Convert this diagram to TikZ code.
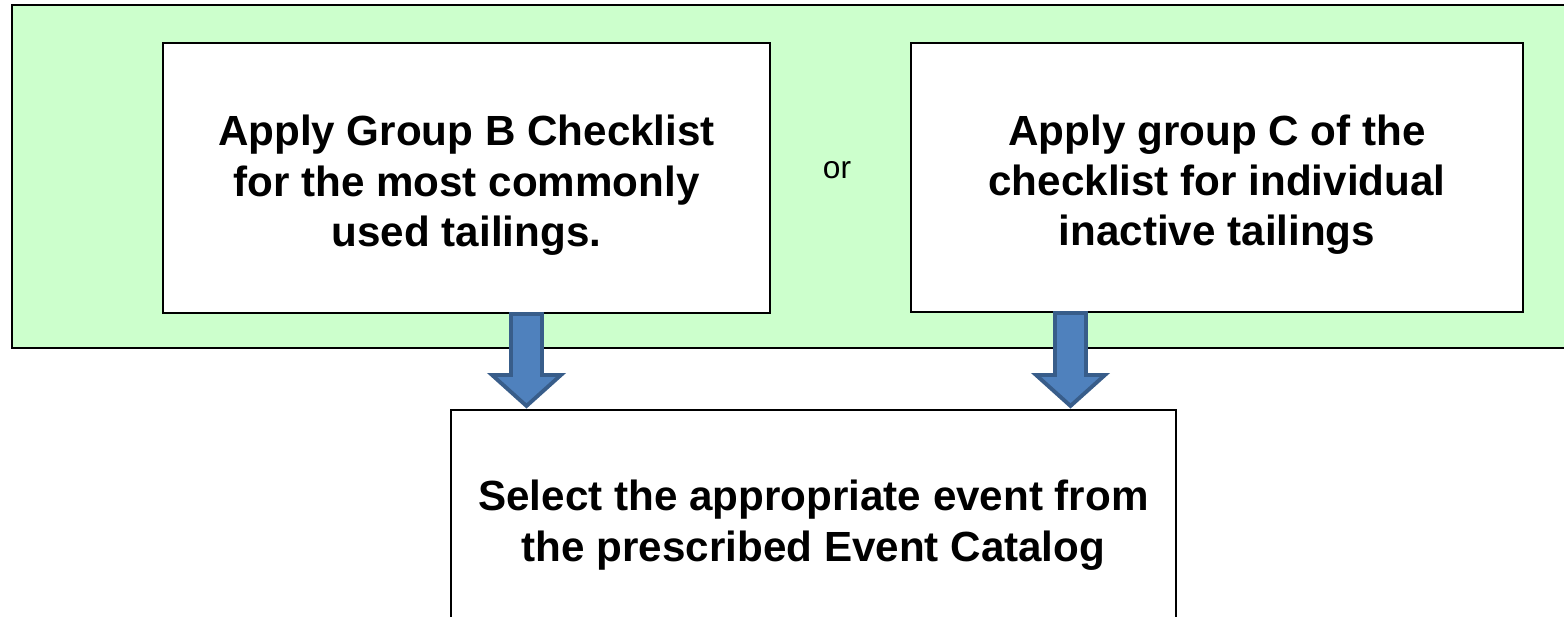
\documentclass[tikz,border=0pt]{standalone}
\usepackage{fontspec}
\setmainfont{Liberation Sans}
\usetikzlibrary{positioning, calc}

\definecolor{panelgreen}{HTML}{CCFFCC}
\definecolor{arrowfill}{HTML}{4F81BD}
\definecolor{arrowline}{HTML}{385D8A}

\tikzset{
  stepbox/.style={draw=black, line width=1.2pt, fill=white, align=center,
    font=\fontsize{24}{28.5}\selectfont\bfseries, inner sep=0pt},
  blockarrow/.style={draw=arrowline, fill=arrowfill, line width=2.2pt, line join=miter}
}
% push the text of a box a little down
\newcommand{\topgap}[1]{\rule{0pt}{#1}}

\begin{document}
\begin{tikzpicture}
  % Page frame
  \useasboundingbox (0,0) rectangle (31.28,12.32);
  \clip (0,0) rectangle (31.28,12.32);

  % Green panel
  \draw[line width=1.2pt, fill=panelgreen] (0.24,5.36) rectangle (31.8,12.22);

  % Checklist boxes
  \node[stepbox, minimum width=12.14cm, minimum height=5.40cm] (groupB) at (9.33,8.76)
    {\topgap{0.9cm}Apply Group B Checklist\\for the most commonly\\used tailings.};
  \node[stepbox, minimum width=12.24cm, minimum height=5.38cm] (groupC) at (24.34,8.77)
    {\topgap{0.9cm}Apply group C of the\\checklist for individual\\inactive tailings};
  \node[font=\fontsize{18}{22}\selectfont] (or) at (16.74,8.92) {or};

  % Catalog box
  \node[stepbox, minimum width=14.5cm, minimum height=4.52cm] (catalog) at (16.27,1.86)
    {\topgap{0.7cm}Select the appropriate event from\\the prescribed Event Catalog};

  % Block arrows
  \coordinate (arrB) at ($(groupB.south)+(1.2,0)$);
  \coordinate (arrC) at ($(groupC.south)+(-2.93,0)$);
  \foreach \src in {arrB, arrC} {
    \coordinate (tip) at (\src |- catalog.north);
    \draw[blockarrow] ($(\src)+(-0.31,0)$) -- ($(tip)+(-0.31,0.68)$)
      -- ($(tip)+(-0.69,0.68)$) -- ($(tip)+(0,0.06)$) -- ($(tip)+(0.69,0.68)$)
      -- ($(tip)+(0.31,0.68)$) -- ($(\src)+(0.31,0)$) -- cycle;
  }
\end{tikzpicture}
\end{document}
